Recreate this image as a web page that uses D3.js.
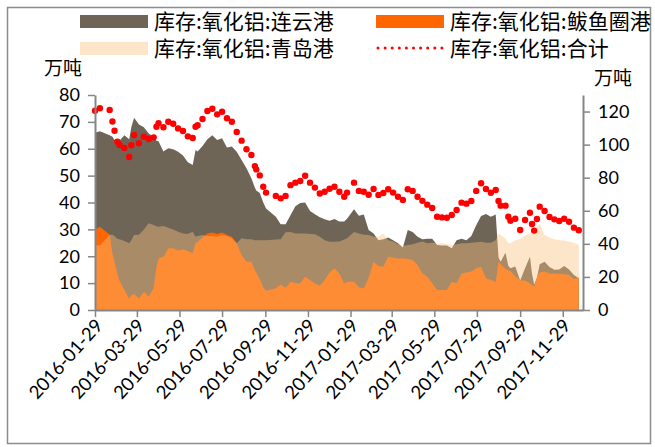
<!DOCTYPE html>
<html>
<head>
<meta charset="utf-8">
<script src="https://cdn.jsdelivr.net/npm/d3@7/dist/d3.min.js"></script>
<style>
body { margin:0; background:#fff; }
svg text { font-family: Lato, "Noto Sans", sans-serif; fill:#000; }
.cjk { font-family: "Noto Sans CJK SC", sans-serif; }
</style>
</head>
<body>
<svg id="chart" width="655" height="447"></svg>
<script>
// weekly port stock data, 万吨
var dates = [
    "2016-01-29","2016-02-05","2016-02-19","2016-02-23","2016-02-26","2016-03-01","2016-03-04","2016-03-11","2016-03-18","2016-03-21",
    "2016-03-25","2016-04-01","2016-04-08","2016-04-15","2016-04-22","2016-04-26","2016-04-29","2016-05-06","2016-05-13","2016-05-20",
    "2016-05-27","2016-06-03","2016-06-10","2016-06-17","2016-06-21","2016-06-24","2016-07-01","2016-07-08","2016-07-15","2016-07-22",
    "2016-07-29","2016-08-05","2016-08-12","2016-08-19","2016-08-26","2016-09-02","2016-09-09","2016-09-14","2016-09-16","2016-09-21",
    "2016-09-26","2016-09-30","2016-10-14","2016-10-21","2016-10-28","2016-11-04","2016-11-11","2016-11-18","2016-11-25","2016-12-02",
    "2016-12-09","2016-12-16","2016-12-23","2016-12-30","2017-01-06","2017-01-13","2017-01-20","2017-01-24","2017-02-03","2017-02-10",
    "2017-02-17","2017-02-24","2017-03-03","2017-03-10","2017-03-17","2017-03-24","2017-03-31","2017-04-07","2017-04-14","2017-04-21",
    "2017-04-28","2017-05-05","2017-05-12","2017-05-19","2017-05-26","2017-06-02","2017-06-09","2017-06-16","2017-06-23","2017-06-30",
    "2017-07-07","2017-07-14","2017-07-21","2017-07-28","2017-08-04","2017-08-11","2017-08-18","2017-08-25","2017-08-29","2017-09-01",
    "2017-09-08","2017-09-12","2017-09-15","2017-09-22","2017-09-29","2017-10-06","2017-10-13","2017-10-16","2017-10-19","2017-10-23",
    "2017-10-27","2017-11-03","2017-11-10","2017-11-17","2017-11-24","2017-12-01","2017-12-08","2017-12-15","2017-12-22"
];
var lianyungang = [
    66,66.5,65,64.5,63.3,62.4,63,65,63.5,68,
    71.5,69,68,65.7,64.5,63,62.8,59,60.2,59.8,
    58.9,57.5,55,54,59.5,59,61,63.5,65,63.3,
    63.9,60.5,60.8,58.9,55.8,52.7,49,45.5,44.5,43.5,
    40,37.8,34.7,31.9,31.9,35.3,38.6,39.8,40,36.8,
    35.6,34.5,33.8,33.2,33.9,32.9,32.9,34,37.5,35.1,
    35.5,29.8,28.5,26,26.3,27,26,24.8,23.3,29.8,
    29,27.3,26.3,26.5,26.5,24.2,24,24,23,26,
    26.5,26,27.5,31.5,35,35.7,34.7,35.5,19.5,18,
    21.3,16.5,15.5,16.2,11,15.5,19.8,13.5,9.5,12,
    17,18,16,15,15.1,16.4,15.1,13,11.8
];
var bayuquan = [
    30,31,28,21,18,13.5,11,7.5,4.3,5.5,
    6,4.3,6.8,5,8.1,16,19.2,19.8,23,23,
    22.1,22.6,22,21.1,24.8,25.3,27,28.5,28.8,28.3,
    28.8,27.9,27.3,24.8,20.5,18,18,14.9,14,11.5,
    8.5,7.2,8.1,9.5,8.3,10.5,10,10,12.4,11.2,
    9.9,9,11.2,14,15.5,13.6,9.9,10.5,10.5,8.5,
    8,12,18,16.4,16.1,19.8,19.5,19.1,19.3,19,
    18.6,16.7,13.6,12.4,10,7.4,7.4,7.4,10.5,10,
    13.6,14,14.3,15.5,16.1,11.8,11.2,10.5,18,17,
    15.3,14.9,14.5,12.5,11,11,10,9.2,8.7,12,
    14,14.3,13.6,13.6,13.4,13.3,13,11.5,12
];
var qingdao = [
    24.2,24,28,28,27.5,26.5,26.3,25.7,24.8,26,
    27.9,28,30,32.3,31.6,31.2,31,31.3,30.6,30,
    29.1,28.5,28.3,29.1,27.3,27.5,27.9,27.5,27.5,27.3,
    27.9,27.5,26.7,24.8,26.7,26.3,26.3,26,26,26,
    26,26,26.2,26.3,28.9,29,28.5,28.5,28.5,28.3,
    28.2,27.3,26,25.4,25.4,25.5,26.2,26.7,29,28.5,
    28,27.9,27.3,27.3,28.5,26,25.5,24.5,23.8,24.2,
    24.5,25,25.5,24.8,25,24.8,24.8,24.6,24.2,24.5,
    24.8,24.8,25,25.2,25.4,25,25,26,28.5,28,
    26.5,24.9,24.8,26,26.5,27.7,28.5,29,29.5,31,
    32,27.9,27,26.3,26,25.9,25.5,25,24.2
];
var total = [
    120.5,122,121,114,108.4,101.8,99.8,98,92.5,99.6,
    105.8,100.8,104.8,103.4,104.4,110.8,113,110.5,113.8,112.6,
    109.8,108.2,105,104,110.8,111.7,115.5,120.3,121.7,118.3,
    119.9,115.9,113.8,107.6,102.4,97.2,93.7,87,85,81.4,
    74.5,71,69,67.5,69,75.5,77,78,81.2,77,
    74,70.4,71.5,73.3,74.5,71.5,68.5,71,77,72,
    71.5,69.7,73.2,69.5,70.7,73,71,68.5,66.5,73,
    72,68.5,66,63.7,61.7,56.4,56,55.8,57.4,60.5,
    64.9,64.3,65.9,72,76.6,73.2,70.9,72.6,65.9,63.1,
    63.1,56.4,54,55.2,48.4,54.4,58.8,52,48,55,
    62.5,59.9,56.2,54.8,53.8,55.2,53.4,49.8,48.2
];
var leftTicks = [0,10,20,30,40,50,60,70,80];
var rightTicks = [0,20,40,60,80,100,120];
var xTicks = ["2016-01-29","2016-03-29","2016-05-29","2016-07-29","2016-09-29","2016-11-29",
              "2017-01-29","2017-03-29","2017-05-29","2017-07-29","2017-09-29","2017-11-29"];
var names = ["库存:氧化铝:连云港","库存:氧化铝:鲅鱼圈港","库存:氧化铝:青岛港","库存:氧化铝:合计"];

var colors = {
    brown:"#6f6557",
    orange:"#ff6600",
    peach:"#fac17e",
    peachAlpha:0.42,
    dot:"#ff0000",
    axis:"#868686"
};

var parse = d3.timeParse("%Y-%m-%d");
var svg = d3.select("#chart");
var plot = {left:95, right:583, top:95, bottom:310};

var x = d3.scaleTime()
    .domain([parse("2016-01-29"), parse("2017-12-28")])
    .range([plot.left, plot.right]);
var yL = d3.scaleLinear().domain([0, 80]).range([plot.bottom, plot.top]);
var yR = d3.scaleLinear().domain([0, 130]).range([plot.bottom, plot.top]);

// outer frame
svg.append("rect")
    .attr("x", 7.5).attr("y", 7.5)
    .attr("width", 643).attr("height", 436)
    .attr("fill", "none")
    .attr("stroke", "#8c8c8c")
    .attr("stroke-width", 1.5);

function areaOf(values) {
    return d3.area()
        .x(function(d, i) { return x(parse(dates[i])); })
        .y0(yL(0))
        .y1(function(d) { return yL(d); })(values);
}

svg.append("path").attr("d", areaOf(lianyungang)).attr("fill", colors.brown);
svg.append("path").attr("d", areaOf(bayuquan)).attr("fill", colors.orange);
svg.append("path").attr("d", areaOf(qingdao))
    .attr("fill", colors.peach)
    .attr("fill-opacity", colors.peachAlpha);

// total as red dots on right axis
svg.append("g").selectAll("circle")
    .data(total)
    .enter().append("circle")
    .attr("cx", function(d, i) { return x(parse(dates[i])); })
    .attr("cy", function(d) { return yR(d); })
    .attr("r", 3.2)
    .attr("fill", colors.dot);

// axes
var axisLeft = d3.axisLeft(yL).tickValues(leftTicks).tickSize(7).tickPadding(8);
var axisRight = d3.axisRight(yR).tickValues(rightTicks).tickSize(7).tickPadding(8);
var axisBottom = d3.axisBottom(x).tickValues(xTicks.map(parse)).tickSize(7).tickFormat("");

function styleAxis(g) {
    g.select(".domain").attr("stroke", colors.axis).attr("stroke-width", 2);
    g.selectAll(".tick line").attr("stroke", colors.axis).attr("stroke-width", 1.5);
    g.selectAll(".tick text")
        .attr("fill", "#000")
        .style("font-family", "Lato, sans-serif")
        .style("font-size", "18px");
}

svg.append("g").attr("transform", "translate(" + plot.left + ",0)")
    .call(axisLeft.tickSizeOuter(0)).call(styleAxis);
svg.append("g").attr("transform", "translate(" + plot.right + ",0)")
    .call(axisRight.tickSizeOuter(0)).call(styleAxis);
svg.append("g").attr("transform", "translate(0," + plot.bottom + ")")
    .call(axisBottom.tickSizeOuter(0)).call(styleAxis);

// rotated date labels
svg.append("g").selectAll("text")
    .data(xTicks)
    .enter().append("text")
    .attr("transform", function(d) { return "translate(" + (x(parse(d)) + 4) + "," + (plot.bottom + 12) + ") rotate(-48)"; })
    .attr("text-anchor", "end")
    .attr("dy", "0.35em")
    .style("font-size", "18.5px")
    .text(function(d) { return d; });

// unit labels
svg.append("text").attr("class", "cjk").attr("x", 44).attr("y", 75)
    .style("font-size", "19px").text("万吨");
svg.append("text").attr("class", "cjk").attr("x", 594).attr("y", 85)
    .style("font-size", "19px").text("万吨");

// legend
var legend = svg.append("g");
var legendItems = [
    {name:names[0], x:80, y:21, type:"rect", fill:colors.brown, op:1},
    {name:names[1], x:376, y:21, type:"rect", fill:colors.orange, op:1},
    {name:names[2], x:80, y:48, type:"rect", fill:colors.peach, op:colors.peachAlpha},
    {name:names[3], x:376, y:48, type:"dots"}
];
legendItems.forEach(function(item) {
    if (item.type == "rect") {
        legend.append("rect")
            .attr("x", item.x).attr("y", item.y - 6)
            .attr("width", 68).attr("height", 13)
            .attr("fill", item.fill)
            .attr("fill-opacity", item.op);
    } else {
        legend.selectAll(null)
            .data(d3.range(10))
            .enter().append("circle")
            .attr("cx", function(d) { return item.x + 2 + d * 7.1; })
            .attr("cy", item.y)
            .attr("r", 1.5)
            .attr("fill", colors.dot);
    }
    legend.append("text")
        .attr("class", "cjk")
        .attr("x", item.x + 74)
        .attr("y", item.y)
        .attr("dy", "0.36em")
        .style("font-size", "21px")
        .text(item.name);
});
</script>
</body>
</html>
